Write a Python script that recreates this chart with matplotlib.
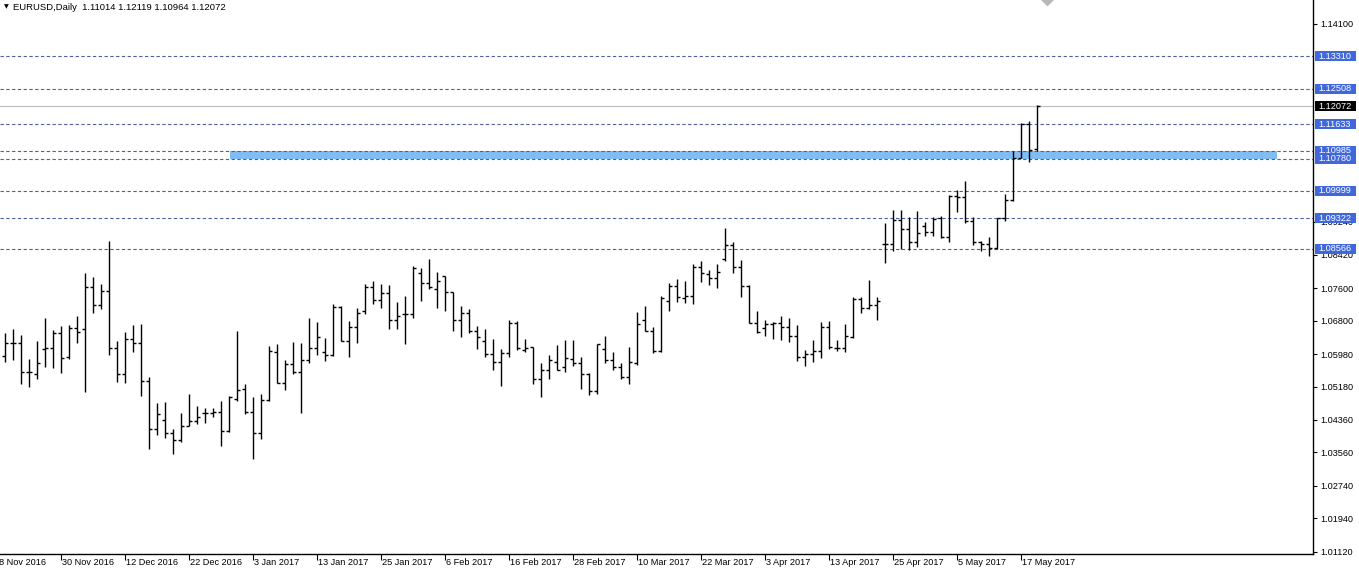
"""
    EURUSD daily bar chart, MT4 style
"""

import matplotlib.pyplot as plt
import matplotlib.transforms as mtransforms
from matplotlib.patches import Rectangle

plt.rcParams['font.family'] = ['Liberation Sans', 'DejaVu Sans']

# daily bars, 21 Nov 2016 .. 19 May 2017
opens = [
    1.0593, 1.0626, 1.0626, 1.0553, 1.0550, 1.0610, 1.0614, 1.0649, 1.0590, 1.0661,
    1.0659, 1.0764, 1.0718, 1.0752, 1.0614, 1.0550, 1.0634, 1.0626, 1.0532, 1.0413,
    1.0437, 1.0403, 1.0386, 1.0422, 1.0434, 1.0452, 1.0454, 1.0455, 1.0409, 1.0487,
    1.0513, 1.0455, 1.0405, 1.0485, 1.0602, 1.0528, 1.0573, 1.0555, 1.0583, 1.0612,
    1.0604, 1.0595, 1.0715, 1.0630, 1.0664, 1.0704, 1.0764, 1.0731, 1.0749, 1.0683,
    1.0696, 1.0696, 1.0798, 1.0772, 1.0759, 1.0790, 1.0750, 1.0683, 1.0698, 1.0654,
    1.0630, 1.0598, 1.0578, 1.0600, 1.0675, 1.0608, 1.0616, 1.0536, 1.0559, 1.0578,
    1.0567, 1.0585, 1.0577, 1.0549, 1.0506, 1.0610, 1.0583, 1.0567, 1.0542, 1.0577,
    1.0682, 1.0655, 1.0605, 1.0729, 1.0765, 1.0735, 1.0741, 1.0813, 1.0795, 1.0784,
    1.0831, 1.0866, 1.0811, 1.0765, 1.0674, 1.0663, 1.0672, 1.0674, 1.0664, 1.0643,
    1.0590, 1.0598, 1.0606, 1.0665, 1.0614, 1.0612, 1.0641, 1.0733, 1.0711, 1.0719,
    1.0868, 1.0868, 1.0928, 1.0905, 1.0873, 1.0913, 1.0899, 1.0932, 1.0885, 1.0987,
    1.0985, 1.0925, 1.0874, 1.0868, 1.0860, 1.0933, 1.0977, 1.1081, 1.1163, 1.11014,
]
highs = [
    1.0649, 1.0659, 1.0645, 1.0585, 1.0630, 1.0686, 1.0657, 1.0667, 1.0669, 1.0692,
    1.0797, 1.0787, 1.0770, 1.0876, 1.0630, 1.0653, 1.0669, 1.0671, 1.0541, 1.0477,
    1.0480, 1.0413, 1.0454, 1.0500, 1.0470, 1.0466, 1.0466, 1.0482, 1.0495, 1.0655,
    1.0524, 1.0493, 1.0501, 1.0618, 1.0623, 1.0583, 1.0628, 1.0626, 1.0687, 1.0678,
    1.0637, 1.0721, 1.0716, 1.0680, 1.0711, 1.0770, 1.0778, 1.0770, 1.0767, 1.0726,
    1.0741, 1.0815, 1.0809, 1.0831, 1.0799, 1.0791, 1.0750, 1.0716, 1.0710, 1.0668,
    1.0660, 1.0635, 1.0610, 1.0682, 1.0680, 1.0635, 1.0616, 1.0575, 1.0596, 1.0620,
    1.0632, 1.0632, 1.0591, 1.0552, 1.0624, 1.0642, 1.0603, 1.0577, 1.0616, 1.0701,
    1.0716, 1.0665, 1.0741, 1.0772, 1.0782, 1.0778, 1.0819, 1.0827, 1.0806, 1.0820,
    1.0907, 1.0873, 1.0829, 1.0768, 1.0704, 1.0682, 1.0678, 1.0692, 1.0686, 1.0669,
    1.0608, 1.0633, 1.0676, 1.0679, 1.0633, 1.0671, 1.0738, 1.0738, 1.0780, 1.0738,
    1.0920, 1.0952, 1.0952, 1.0934, 1.0950, 1.0924, 1.0934, 1.0938, 1.0989, 1.1002,
    1.1024, 1.0934, 1.0877, 1.0887, 1.0933, 1.0991, 1.1098, 1.1166, 1.1172, 1.12119,
]
lows = [
    1.0579, 1.0583, 1.0524, 1.0518, 1.0537, 1.0565, 1.0564, 1.0552, 1.0585, 1.0626,
    1.0505, 1.0698, 1.0710, 1.0596, 1.0530, 1.0526, 1.0604, 1.0495, 1.0364, 1.0400,
    1.0392, 1.0352, 1.0381, 1.0420, 1.0427, 1.0429, 1.0444, 1.0372, 1.0407, 1.0483,
    1.0450, 1.0339, 1.0389, 1.0482, 1.0526, 1.0509, 1.0550, 1.0454, 1.0575, 1.0596,
    1.0581, 1.0593, 1.0630, 1.0590, 1.0626, 1.0696, 1.0720, 1.0712, 1.0659, 1.0659,
    1.0622, 1.0686, 1.0729, 1.0757, 1.0712, 1.0705, 1.0655, 1.0641, 1.0651, 1.0610,
    1.0591, 1.0560, 1.0520, 1.0591, 1.0608, 1.0604, 1.0524, 1.0493, 1.0537, 1.0559,
    1.0553, 1.0569, 1.0513, 1.0497, 1.0500, 1.0575, 1.0559, 1.0536, 1.0524, 1.0571,
    1.0655, 1.0600, 1.0604, 1.0704, 1.0727, 1.0724, 1.0720, 1.0776, 1.0768, 1.0761,
    1.0828, 1.0798, 1.0739, 1.0675, 1.0651, 1.0642, 1.0635, 1.0633, 1.0628, 1.0582,
    1.0569, 1.0578, 1.0589, 1.0610, 1.0606, 1.0604, 1.0637, 1.0700, 1.0708, 1.0683,
    1.0821, 1.0852, 1.0856, 1.0854, 1.0861, 1.0889, 1.0888, 1.0884, 1.0874, 1.0948,
    1.0920, 1.0866, 1.0852, 1.0840, 1.0856, 1.0926, 1.0975, 1.1081, 1.1071, 1.10964,
]
closes = [
    1.0626, 1.0626, 1.0553, 1.0553, 1.0575, 1.0614, 1.0649, 1.0588, 1.0661, 1.0652,
    1.0764, 1.0718, 1.0752, 1.0614, 1.0550, 1.0634, 1.0626, 1.0532, 1.0413, 1.0450,
    1.0403, 1.0386, 1.0422, 1.0434, 1.0444, 1.0454, 1.0455, 1.0409, 1.0493, 1.0509,
    1.0455, 1.0405, 1.0486, 1.0606, 1.0528, 1.0573, 1.0555, 1.0583, 1.0612, 1.0639,
    1.0595, 1.0715, 1.0630, 1.0664, 1.0698, 1.0764, 1.0731, 1.0749, 1.0683, 1.0692,
    1.0696, 1.0809, 1.0772, 1.0762, 1.0778, 1.0750, 1.0683, 1.0698, 1.0654, 1.0639,
    1.0597, 1.0578, 1.0600, 1.0675, 1.0614, 1.0612, 1.0536, 1.0559, 1.0583, 1.0560,
    1.0589, 1.0575, 1.0549, 1.0506, 1.0623, 1.0583, 1.0567, 1.0542, 1.0578, 1.0673,
    1.0655, 1.0605, 1.0736, 1.0765, 1.0738, 1.0741, 1.0813, 1.0798, 1.0786, 1.0801,
    1.0866, 1.0813, 1.0765, 1.0675, 1.0653, 1.0671, 1.0674, 1.0664, 1.0643, 1.0590,
    1.0598, 1.0606, 1.0665, 1.0615, 1.0612, 1.0642, 1.0733, 1.0712, 1.0719, 1.0729,
    1.0868, 1.0928, 1.0905, 1.0873, 1.0895, 1.0899, 1.0930, 1.0885, 1.0987, 1.0985,
    1.0925, 1.0874, 1.0868, 1.0860, 1.0933, 1.0977, 1.1081, 1.1163, 1.1101, 1.12072,
]

# time scale labels, one every 8 bars (bar index, text)
date_pos = [-1, 7, 15, 23, 31, 39, 47, 55, 63, 71, 79, 87, 95, 103, 111, 119, 127]
date_labels = [
    "18 Nov 2016", "30 Nov 2016", "12 Dec 2016", "22 Dec 2016", "3 Jan 2017",
    "13 Jan 2017", "25 Jan 2017", "6 Feb 2017", "16 Feb 2017", "28 Feb 2017",
    "10 Mar 2017", "22 Mar 2017", "3 Apr 2017", "13 Apr 2017", "25 Apr 2017",
    "5 May 2017", "17 May 2017",
]

# price scale labels that show (the rest sit under the level boxes)
price_ticks = [1.01120, 1.01940, 1.02740, 1.03560, 1.04360, 1.05180, 1.05980,
               1.06800, 1.07600, 1.08420, 1.09240, 1.14100]

levels = [1.13310, 1.12508, 1.11633, 1.10985, 1.10780, 1.09999, 1.09322, 1.08566]
last_price = 1.12072
zone_low, zone_high = 1.10780, 1.10985
zone_start, zone_end = 28.1, 159.0

symbol_line = "EURUSD,Daily  1.11014 1.12119 1.10964 1.12072"

FS = 6.6
LEVEL_COLOR = '#4e5f9c'
BOX_COLOR = '#4068dc'


def main():
    W, H = 1359, 575
    fig = plt.figure(figsize=(W / 100, H / 100), dpi=100)
    ax = fig.add_axes([0, 21 / H, 1313 / W, 554 / H])
    ax.set_xlim(-0.625, 163.5)
    ax.set_ylim(1.01062, 1.14690)

    for s in ('top', 'left'):
        ax.spines[s].set_visible(False)
    for s in ('right', 'bottom'):
        ax.spines[s].set_color('black')
        ax.spines[s].set_linewidth(1.0)

    # zone rectangle and horizontal levels
    ax.add_patch(Rectangle((zone_start, zone_low), zone_end - zone_start,
                           zone_high - zone_low, facecolor='#7fbdf2',
                           edgecolor='none', zorder=1))
    for lv in levels:
        ax.axhline(lv, color=LEVEL_COLOR, lw=0.8, ls=(0, (3, 2.2)), zorder=2)
    ax.axhline(last_price, color='#c0c0c0', lw=0.9, zorder=2)

    # OHLC bars
    idx = list(range(len(closes)))
    ax.vlines(idx, lows, highs, color='black', lw=1.0, zorder=3)
    ax.hlines(opens, [i - 0.33 for i in idx], idx, color='black', lw=1.0, zorder=3)
    ax.hlines(closes, idx, [i + 0.33 for i in idx], color='black', lw=1.0, zorder=3)

    # price scale on the right
    ax.yaxis.tick_right()
    ax.set_yticks(price_ticks)
    ax.set_yticklabels([f"{p:.5f}" for p in price_ticks])
    ax.tick_params(axis='y', length=3, pad=2, labelsize=FS, color='black')

    # label boxes for levels and current price
    trans_y = mtransforms.blended_transform_factory(ax.transAxes, ax.transData)
    box_x0 = 1315 / 1313
    box_w = 41 / 1313
    box_h = 10 / 4065
    for lv in levels + [last_price]:
        fc = 'black' if lv == last_price else BOX_COLOR
        ax.add_patch(Rectangle((box_x0, lv - box_h / 2), box_w, box_h,
                               transform=trans_y, facecolor=fc,
                               edgecolor='none', clip_on=False, zorder=5))
        ax.text(1318 / 1313, lv, f"{lv:.5f}", transform=trans_y, ha='left',
                va='center', color='white', fontsize=FS, clip_on=False, zorder=6)

    # time scale
    x0 = ax.get_xlim()[0]
    vis = [p for p in date_pos if p >= x0]
    ax.set_xticks(vis)
    ax.set_xticklabels([''] * len(vis))
    ax.tick_params(axis='x', length=4, color='black')
    trans_x = mtransforms.blended_transform_factory(ax.transData, ax.transAxes)
    for p, lab in zip(date_pos, date_labels):
        dx = 1 if p >= x0 else -3
        off = mtransforms.ScaledTranslation(dx / 100, -4 / 100, fig.dpi_scale_trans)
        ax.text(p, 0, lab, transform=trans_x + off, ha='left', va='top',
                fontsize=FS, clip_on=False)

    # header
    fig.text(4 / W, 1 - 7 / H, "\u25bc", fontsize=4.5, va='center',
             family=['DejaVu Sans'])
    fig.text(13 / W, 1 - 7 / H, symbol_line, fontsize=6.8, va='center')

    # grey object marker cut by the top edge
    ax.plot([130.2], [1.14690 + 0.0004], marker='D', ms=7, color='#b8b8b8',
            clip_on=False, zorder=4)

    fig.savefig("out.png", dpi=100)


if __name__ == "__main__":
    main()
